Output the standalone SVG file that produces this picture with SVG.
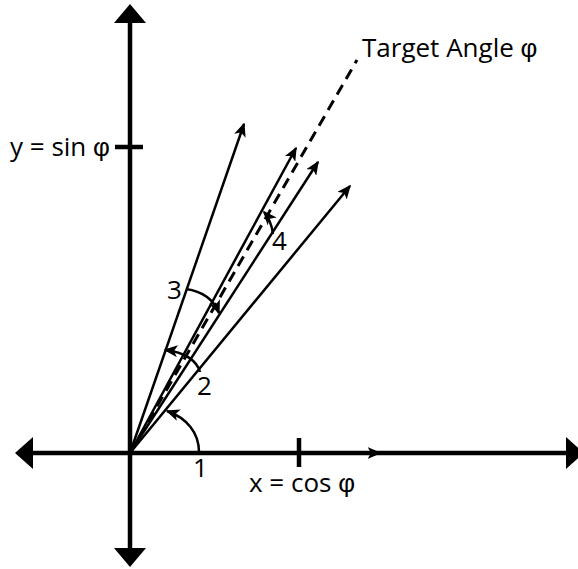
<svg xmlns="http://www.w3.org/2000/svg" width="578" height="569" viewBox="0 0 578 569">
  <style>
    .axis { stroke: #000; stroke-width: 4.5; fill: none; }
    .vec { stroke: #000; stroke-width: 2.5; fill: none; marker-end: url(#ah); }
    .arc { stroke: #000; stroke-width: 2.5; fill: none; marker-end: url(#ah); }
    .dash { stroke: #000; stroke-width: 3; fill: none; stroke-dasharray: 11 7; }
    .lbl { font-family: "Open Sans", "Noto Sans", "Liberation Sans", sans-serif; font-size: 26px; fill: #000; }
    .phi { font-family: "Liberation Sans", "DejaVu Sans", sans-serif; }
    .head { fill: #000; stroke: none; }
  </style>
  <defs>
    <marker id="ah" viewBox="0 0 14 12" refX="12.5" refY="6" markerWidth="14" markerHeight="12" markerUnits="userSpaceOnUse" orient="auto">
      <path d="M0,0 L14,6 L0,12 L3.5,6 z" fill="#000"/>
    </marker>
  </defs>

  <g id="axes">
    <line class="axis" x1="130" y1="22" x2="130" y2="549"/>
    <line class="axis" x1="32" y1="453" x2="567" y2="453"/>
    <polygon class="head" points="130,4 146,23 114,23"/>
    <polygon class="head" points="130,567 146,548 114,548"/>
    <polygon class="head" points="15,453 33,437 33,469"/>
    <polygon class="head" points="584,453 566,437 566,469"/>
    <line class="axis" x1="299" y1="438" x2="299" y2="467"/>
    <line class="axis" x1="115" y1="147" x2="143" y2="147"/>
  </g>

  <g id="target">
    <line class="dash" x1="130" y1="453" x2="357" y2="60"/>
  </g>

  <g id="vectors">
    <line class="vec" x1="130" y1="453" x2="380" y2="453"/>
    <line class="vec" x1="130" y1="453" x2="350" y2="186"/>
    <line class="vec" x1="130" y1="453" x2="244" y2="124"/>
    <line class="vec" x1="130" y1="453" x2="318" y2="162"/>
    <line class="vec" x1="130" y1="453" x2="296" y2="148"/>
  </g>

  <g id="arcs">
    <path class="arc" d="M199,452 C199,433 187,418 167,411"/>
    <path class="arc" d="M200,372 C197,361 185,352 165,350"/>
    <path class="arc" d="M186,289 C200,291 213,298 219,313"/>
    <path class="arc" d="M273,234 C272,226 270,219 264,212"/>
  </g>

  <g id="labels">
    <text class="lbl" x="362" y="57">Target Angle <tspan class="phi">φ</tspan></text>
    <text class="lbl" x="10" y="156">y = sin <tspan class="phi">φ</tspan></text>
    <text class="lbl" x="249" y="492">x = cos <tspan class="phi">φ</tspan></text>
    <text class="lbl" x="193" y="477">1</text>
    <text class="lbl" x="197" y="395">2</text>
    <text class="lbl" x="167" y="299">3</text>
    <text class="lbl" x="272" y="250">4</text>
  </g>
</svg>
